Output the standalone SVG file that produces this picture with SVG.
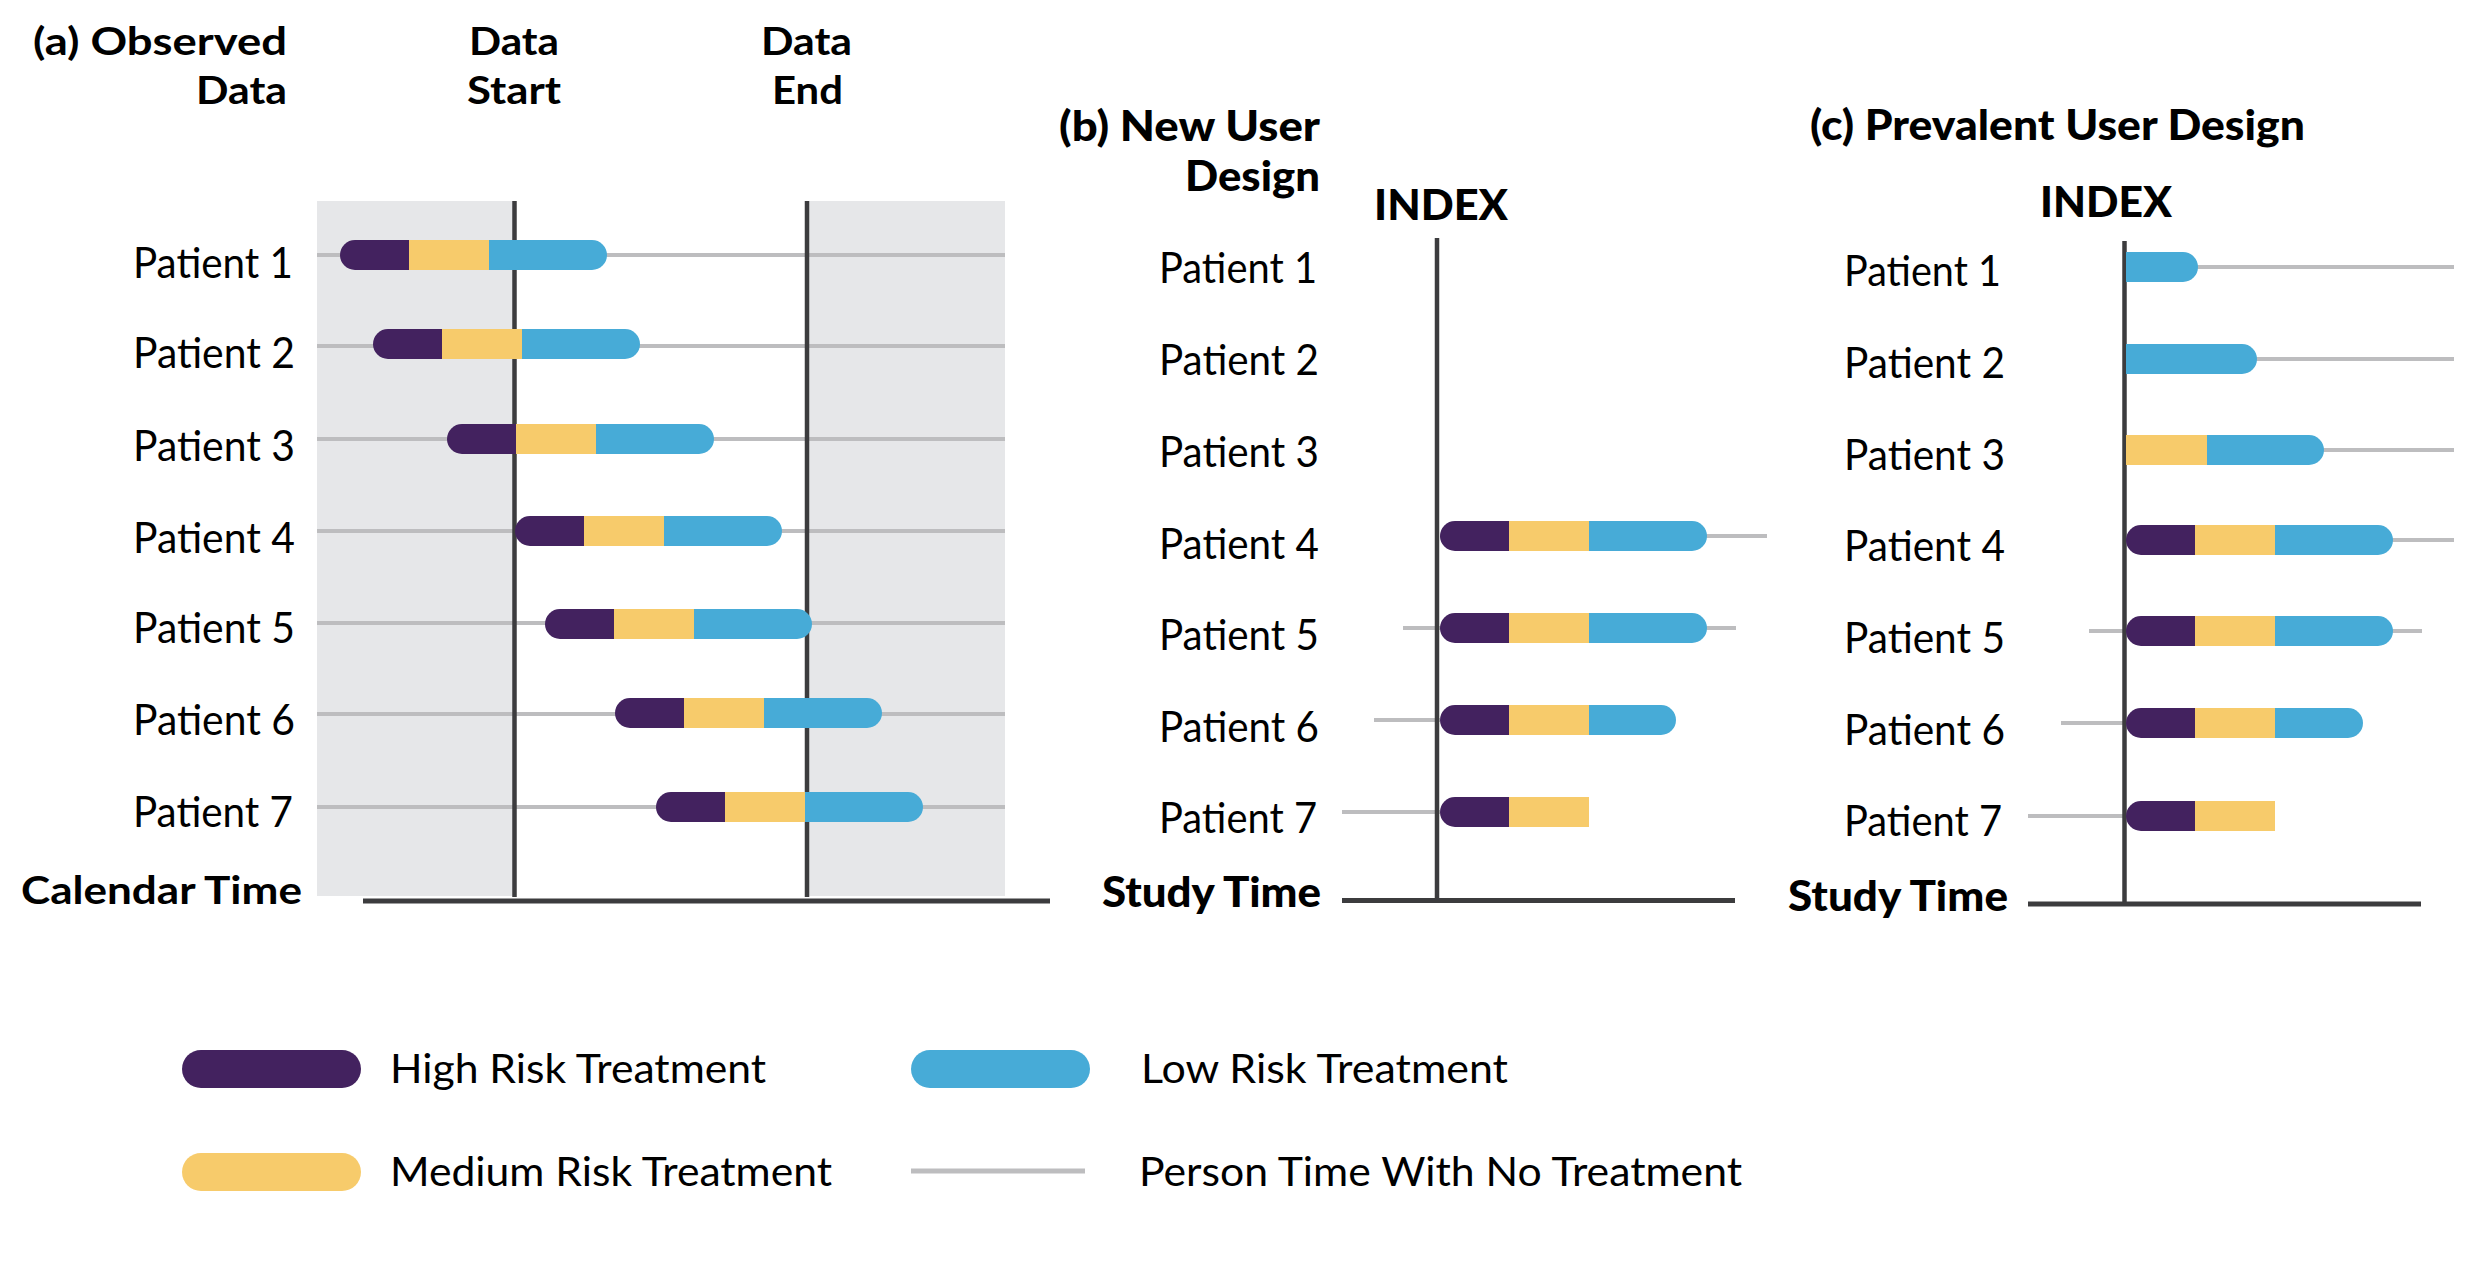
<svg xmlns="http://www.w3.org/2000/svg" width="2488" height="1276" viewBox="0 0 2488 1276">
<style>
  text { font-family: Lato, "Liberation Sans", sans-serif; fill: #000; }
  .lbl { font-size: 42px; font-weight: 400; }
  .leg { font-size: 40px; font-weight: 400; }
  .hd { font-size: 39px; font-weight: 700; }
  .hd2 { font-size: 42px; font-weight: 900; }
  .hi { fill: #43225f; }
  .md { fill: #f7cb6b; }
  .lo { fill: #47abd7; }
  .none { stroke: #bdbdbf; stroke-width: 4; fill: none; }
  .axis { stroke: #3c3c3e; stroke-width: 5; fill: none; }
  .vline { stroke: #3c3c3e; stroke-width: 4.5; fill: none; }
</style>
<rect width="2488" height="1276" fill="#ffffff"/>

<!-- Panel (a) -->
<g id="panel-a">
  <rect x="317" y="201" width="688" height="695" fill="#e6e7e9"/>
  <rect x="514" y="201" width="293" height="695" fill="#ffffff"/>
  <text class="hd" x="33" y="55" textLength="254" lengthAdjust="spacingAndGlyphs">(a) Observed</text>
  <text class="hd" x="196" y="104" textLength="91" lengthAdjust="spacingAndGlyphs">Data</text>
  <text class="hd" x="469" y="55" textLength="90" lengthAdjust="spacingAndGlyphs">Data</text>
  <text class="hd" x="467" y="104" textLength="94" lengthAdjust="spacingAndGlyphs">Start</text>
  <text class="hd" x="761" y="55" textLength="91" lengthAdjust="spacingAndGlyphs">Data</text>
  <text class="hd" x="772" y="104" textLength="71" lengthAdjust="spacingAndGlyphs">End</text>
  <text class="hd" x="21" y="904" textLength="281" lengthAdjust="spacingAndGlyphs">Calendar Time</text>
  <g id="a-none-lines">
    <line class="none" x1="317" y1="255" x2="1005" y2="255"/>
    <line class="none" x1="317" y1="346" x2="1005" y2="346"/>
    <line class="none" x1="317" y1="439" x2="1005" y2="439"/>
    <line class="none" x1="317" y1="531" x2="1005" y2="531"/>
    <line class="none" x1="317" y1="623" x2="1005" y2="623"/>
    <line class="none" x1="317" y1="714" x2="1005" y2="714"/>
    <line class="none" x1="317" y1="807" x2="1005" y2="807"/>
  </g>
  <line class="vline" x1="514.5" y1="201" x2="514.5" y2="897"/>
  <line class="vline" x1="807" y1="201" x2="807" y2="897"/>
  <line class="axis" x1="363" y1="901" x2="1050" y2="901"/>
  <g id="a-p1"><text class="lbl" x="133" y="278" textLength="160" lengthAdjust="spacingAndGlyphs">Patient 1</text>
    <rect class="lo" x="474" y="240" width="133" height="30" rx="15"/><rect class="hi" x="340" y="240" width="84" height="30" rx="15"/><rect class="md" x="409" y="240" width="80" height="30"/></g>
  <g id="a-p2"><text class="lbl" x="133" y="368" textLength="162" lengthAdjust="spacingAndGlyphs">Patient 2</text>
    <rect class="lo" x="507" y="329" width="133" height="30" rx="15"/><rect class="hi" x="373" y="329" width="84" height="30" rx="15"/><rect class="md" x="442" y="329" width="80" height="30"/></g>
  <g id="a-p3"><text class="lbl" x="133" y="461" textLength="162" lengthAdjust="spacingAndGlyphs">Patient 3</text>
    <rect class="lo" x="581" y="424" width="133" height="30" rx="15"/><rect class="hi" x="447" y="424" width="84" height="30" rx="15"/><rect class="md" x="516" y="424" width="80" height="30"/></g>
  <g id="a-p4"><text class="lbl" x="133" y="553" textLength="162" lengthAdjust="spacingAndGlyphs">Patient 4</text>
    <rect class="lo" x="649" y="516" width="133" height="30" rx="15"/><rect class="hi" x="515" y="516" width="84" height="30" rx="15"/><rect class="md" x="584" y="516" width="80" height="30"/></g>
  <g id="a-p5"><text class="lbl" x="133" y="643" textLength="162" lengthAdjust="spacingAndGlyphs">Patient 5</text>
    <rect class="lo" x="679" y="609" width="133" height="30" rx="15"/><rect class="hi" x="545" y="609" width="84" height="30" rx="15"/><rect class="md" x="614" y="609" width="80" height="30"/></g>
  <g id="a-p6"><text class="lbl" x="133" y="735" textLength="162" lengthAdjust="spacingAndGlyphs">Patient 6</text>
    <rect class="lo" x="749" y="698" width="133" height="30" rx="15"/><rect class="hi" x="615" y="698" width="84" height="30" rx="15"/><rect class="md" x="684" y="698" width="80" height="30"/></g>
  <g id="a-p7"><text class="lbl" x="133" y="827" textLength="160" lengthAdjust="spacingAndGlyphs">Patient 7</text>
    <rect class="lo" x="790" y="792" width="133" height="30" rx="15"/><rect class="hi" x="656" y="792" width="84" height="30" rx="15"/><rect class="md" x="725" y="792" width="80" height="30"/></g>
</g>

<!-- Panel (b) -->
<g id="panel-b">
  <text class="hd2" x="1059" y="141" textLength="261" lengthAdjust="spacingAndGlyphs">(b) New User</text>
  <text class="hd2" x="1185" y="191" textLength="135" lengthAdjust="spacingAndGlyphs">Design</text>
  <text class="hd2" x="1374" y="220" textLength="134" lengthAdjust="spacingAndGlyphs">INDEX</text>
  <text class="hd2" x="1102" y="907" textLength="219" lengthAdjust="spacingAndGlyphs">Study Time</text>
  <g id="b-none-lines">
    <line class="none" x1="1440" y1="536" x2="1767" y2="536"/>
    <line class="none" x1="1403" y1="628" x2="1736" y2="628"/>
    <line class="none" x1="1374" y1="720" x2="1440" y2="720"/>
    <line class="none" x1="1342" y1="812" x2="1440" y2="812"/>
  </g>
  <line class="vline" x1="1437" y1="238" x2="1437" y2="902"/>
  <line class="axis" x1="1342" y1="900.5" x2="1735" y2="900.5"/>
  <g id="b-p1"><text class="lbl" x="1159" y="283" textLength="158" lengthAdjust="spacingAndGlyphs">Patient 1</text></g>
  <g id="b-p2"><text class="lbl" x="1159" y="375" textLength="160" lengthAdjust="spacingAndGlyphs">Patient 2</text></g>
  <g id="b-p3"><text class="lbl" x="1159" y="467" textLength="160" lengthAdjust="spacingAndGlyphs">Patient 3</text></g>
  <g id="b-p4"><text class="lbl" x="1159" y="559" textLength="160" lengthAdjust="spacingAndGlyphs">Patient 4</text>
    <rect class="lo" x="1574" y="521" width="133" height="30" rx="15"/><rect class="hi" x="1440" y="521" width="84" height="30" rx="15"/><rect class="md" x="1509" y="521" width="80" height="30"/></g>
  <g id="b-p5"><text class="lbl" x="1159" y="650" textLength="160" lengthAdjust="spacingAndGlyphs">Patient 5</text>
    <rect class="lo" x="1574" y="613" width="133" height="30" rx="15"/><rect class="hi" x="1440" y="613" width="84" height="30" rx="15"/><rect class="md" x="1509" y="613" width="80" height="30"/></g>
  <g id="b-p6"><text class="lbl" x="1159" y="742" textLength="160" lengthAdjust="spacingAndGlyphs">Patient 6</text>
    <rect class="lo" x="1574" y="705" width="102" height="30" rx="15"/><rect class="hi" x="1440" y="705" width="84" height="30" rx="15"/><rect class="md" x="1509" y="705" width="80" height="30"/></g>
  <g id="b-p7"><text class="lbl" x="1159" y="833" textLength="158" lengthAdjust="spacingAndGlyphs">Patient 7</text>
    <rect class="hi" x="1440" y="797" width="84" height="30" rx="15"/><rect class="md" x="1509" y="797" width="80" height="30"/></g>
</g>

<!-- Panel (c) -->
<g id="panel-c">
  <text class="hd2" x="1810" y="140" textLength="495" lengthAdjust="spacingAndGlyphs">(c) Prevalent User Design</text>
  <text class="hd2" x="2040" y="217" textLength="132" lengthAdjust="spacingAndGlyphs">INDEX</text>
  <text class="hd2" x="1788" y="911" textLength="220" lengthAdjust="spacingAndGlyphs">Study Time</text>
  <g id="c-none-lines">
    <line class="none" x1="2126" y1="267" x2="2454" y2="267"/>
    <line class="none" x1="2126" y1="359" x2="2454" y2="359"/>
    <line class="none" x1="2126" y1="450" x2="2454" y2="450"/>
    <line class="none" x1="2126" y1="540" x2="2454" y2="540"/>
    <line class="none" x1="2089" y1="631" x2="2422" y2="631"/>
    <line class="none" x1="2061" y1="723" x2="2126" y2="723"/>
    <line class="none" x1="2028" y1="816" x2="2126" y2="816"/>
  </g>
  <line class="vline" x1="2124.5" y1="241" x2="2124.5" y2="906"/>
  <line class="axis" x1="2028" y1="904" x2="2421" y2="904"/>
  <g id="c-p1"><text class="lbl" x="1844" y="286" textLength="157" lengthAdjust="spacingAndGlyphs">Patient 1</text>
    <rect class="lo" x="2126" y="252" width="72" height="30" rx="15"/><rect class="lo" x="2126" y="252" width="20" height="30"/></g>
  <g id="c-p2"><text class="lbl" x="1844" y="378" textLength="161" lengthAdjust="spacingAndGlyphs">Patient 2</text>
    <rect class="lo" x="2126" y="344" width="131" height="30" rx="15"/><rect class="lo" x="2126" y="344" width="20" height="30"/></g>
  <g id="c-p3"><text class="lbl" x="1844" y="470" textLength="161" lengthAdjust="spacingAndGlyphs">Patient 3</text>
    <rect class="lo" x="2192" y="435" width="132" height="30" rx="15"/><rect class="md" x="2126" y="435" width="81" height="30"/></g>
  <g id="c-p4"><text class="lbl" x="1844" y="561" textLength="161" lengthAdjust="spacingAndGlyphs">Patient 4</text>
    <rect class="lo" x="2260" y="525" width="133" height="30" rx="15"/><rect class="hi" x="2126" y="525" width="84" height="30" rx="15"/><rect class="md" x="2195" y="525" width="80" height="30"/></g>
  <g id="c-p5"><text class="lbl" x="1844" y="653" textLength="161" lengthAdjust="spacingAndGlyphs">Patient 5</text>
    <rect class="lo" x="2260" y="616" width="133" height="30" rx="15"/><rect class="hi" x="2126" y="616" width="84" height="30" rx="15"/><rect class="md" x="2195" y="616" width="80" height="30"/></g>
  <g id="c-p6"><text class="lbl" x="1844" y="745" textLength="161" lengthAdjust="spacingAndGlyphs">Patient 6</text>
    <rect class="lo" x="2260" y="708" width="103" height="30" rx="15"/><rect class="hi" x="2126" y="708" width="84" height="30" rx="15"/><rect class="md" x="2195" y="708" width="80" height="30"/></g>
  <g id="c-p7"><text class="lbl" x="1844" y="836" textLength="158" lengthAdjust="spacingAndGlyphs">Patient 7</text>
    <rect class="hi" x="2126" y="801" width="84" height="30" rx="15"/><rect class="md" x="2195" y="801" width="80" height="30"/></g>
</g>

<!-- Legend -->
<g id="legend">
  <g id="leg-high"><rect class="hi" x="182" y="1050" width="179" height="38" rx="19"/>
    <text class="leg" x="390" y="1083" textLength="376" lengthAdjust="spacingAndGlyphs">High Risk Treatment</text></g>
  <g id="leg-low"><rect class="lo" x="911" y="1050" width="179" height="38" rx="19"/>
    <text class="leg" x="1141" y="1083" textLength="367" lengthAdjust="spacingAndGlyphs">Low Risk Treatment</text></g>
  <g id="leg-med"><rect class="md" x="182" y="1153" width="179" height="38" rx="19"/>
    <text class="leg" x="390" y="1186" textLength="442" lengthAdjust="spacingAndGlyphs">Medium Risk Treatment</text></g>
  <g id="leg-none"><line class="none" x1="911" y1="1171" x2="1085" y2="1171" style="stroke-width:5"/>
    <text class="leg" x="1139" y="1186" textLength="603" lengthAdjust="spacingAndGlyphs">Person Time With No Treatment</text></g>
</g>
</svg>
